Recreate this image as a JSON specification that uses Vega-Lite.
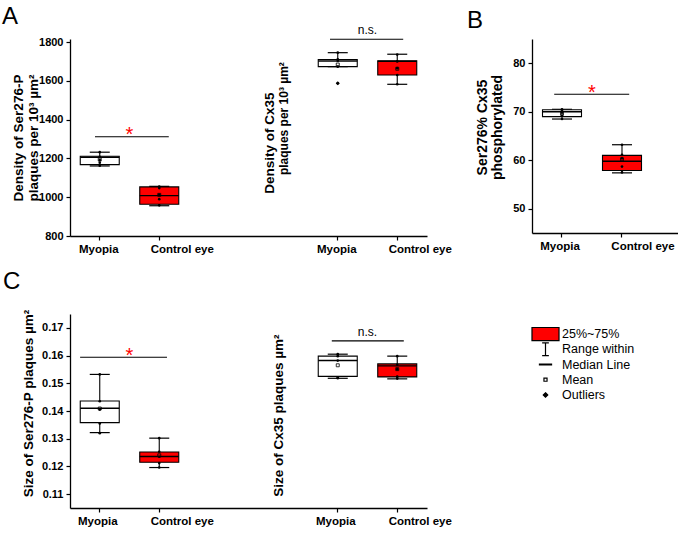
{
"$schema": "https://vega.github.io/schema/vega-lite/v6.json",
"autosize": {"type": "none"},
"padding": {"left": 70, "top": 39, "right": 608, "bottom": 494},
"background": "white",
"config": {
  "font": "Liberation Sans",
  "view": {"stroke": null},
  "axis": {"domainColor": "black", "domainWidth": 1.3, "tickColor": "black", "tickWidth": 1.2, "labelColor": "black", "labelFont": "Liberation Sans", "labelFontWeight": "bold", "labelFontSize": 11, "titleColor": "black", "titleFont": "Liberation Sans", "titleFontWeight": "bold", "titleFontSize": 13.5, "grid": false, "labelOverlap": false},
  "axisY": {"labelOverlap": false},
  "axisLeft": {"labelOverlap": false},
  "axisX": {"labelFontSize": 11.5, "labelAngle": 0},
  "text": {"font": "Liberation Sans"}
},
"datasets": {
  "boxes": [
    {"panel": "A", "key": "SP|Myopia", "lo": 1161, "q1": 1168, "med": 1206, "q3": 1211, "hi": 1232, "mean": 1194},
    {"panel": "A", "key": "SP|Control eye", "lo": 956, "q1": 964, "med": 1008, "q3": 1053, "hi": 1056, "mean": 1012},
    {"panel": "A", "key": "CX|Myopia", "lo": 1673, "q1": 1673, "med": 1702, "q3": 1710, "hi": 1745, "mean": 1684},
    {"panel": "A", "key": "CX|Control eye", "lo": 1582, "q1": 1630, "med": 1700, "q3": 1703, "hi": 1737, "mean": 1662},
    {"panel": "B", "key": "Myopia", "lo": 68.5, "q1": 69.0, "med": 70.0, "q3": 70.4, "hi": 70.5, "mean": 69.6},
    {"panel": "B", "key": "Control eye", "lo": 57.4, "q1": 57.9, "med": 59.8, "q3": 61.0, "hi": 63.2, "mean": 60.2},
    {"panel": "C", "key": "SP|Myopia", "lo": 0.1322, "q1": 0.1358, "med": 0.1410, "q3": 0.1436, "hi": 0.1532, "mean": 0.1409},
    {"panel": "C", "key": "SP|Control eye", "lo": 0.1196, "q1": 0.1215, "med": 0.1236, "q3": 0.1252, "hi": 0.1302, "mean": 0.1240},
    {"panel": "C", "key": "CX|Myopia", "lo": 0.1518, "q1": 0.1525, "med": 0.1582, "q3": 0.1598, "hi": 0.1605, "mean": 0.1565},
    {"panel": "C", "key": "CX|Control eye", "lo": 0.1516, "q1": 0.1523, "med": 0.1563, "q3": 0.1570, "hi": 0.1598, "mean": 0.1551}
  ],
  "points": [
    {"panel": "A", "key": "SP|Myopia", "v": 1232}, {"panel": "A", "key": "SP|Myopia", "v": 1208}, {"panel": "A", "key": "SP|Myopia", "v": 1192}, {"panel": "A", "key": "SP|Myopia", "v": 1178}, {"panel": "A", "key": "SP|Myopia", "v": 1162},
    {"panel": "A", "key": "SP|Control eye", "v": 1055}, {"panel": "A", "key": "SP|Control eye", "v": 1047}, {"panel": "A", "key": "SP|Control eye", "v": 1012}, {"panel": "A", "key": "SP|Control eye", "v": 990}, {"panel": "A", "key": "SP|Control eye", "v": 958},
    {"panel": "A", "key": "CX|Myopia", "v": 1745}, {"panel": "A", "key": "CX|Myopia", "v": 1711}, {"panel": "A", "key": "CX|Myopia", "v": 1704}, {"panel": "A", "key": "CX|Myopia", "v": 1673}, {"panel": "A", "key": "CX|Myopia", "v": 1587},
    {"panel": "A", "key": "CX|Control eye", "v": 1735}, {"panel": "A", "key": "CX|Control eye", "v": 1700}, {"panel": "A", "key": "CX|Control eye", "v": 1665}, {"panel": "A", "key": "CX|Control eye", "v": 1630}, {"panel": "A", "key": "CX|Control eye", "v": 1582},
    {"panel": "B", "key": "Myopia", "v": 70.5}, {"panel": "B", "key": "Myopia", "v": 70.2}, {"panel": "B", "key": "Myopia", "v": 69.8}, {"panel": "B", "key": "Myopia", "v": 69.2}, {"panel": "B", "key": "Myopia", "v": 68.5},
    {"panel": "B", "key": "Control eye", "v": 63.2}, {"panel": "B", "key": "Control eye", "v": 61.1}, {"panel": "B", "key": "Control eye", "v": 60.4}, {"panel": "B", "key": "Control eye", "v": 58.7}, {"panel": "B", "key": "Control eye", "v": 57.5},
    {"panel": "C", "key": "SP|Myopia", "v": 0.1532}, {"panel": "C", "key": "SP|Myopia", "v": 0.1435}, {"panel": "C", "key": "SP|Myopia", "v": 0.1405}, {"panel": "C", "key": "SP|Myopia", "v": 0.1355}, {"panel": "C", "key": "SP|Myopia", "v": 0.1320},
    {"panel": "C", "key": "SP|Control eye", "v": 0.1302}, {"panel": "C", "key": "SP|Control eye", "v": 0.1253}, {"panel": "C", "key": "SP|Control eye", "v": 0.1235}, {"panel": "C", "key": "SP|Control eye", "v": 0.1212}, {"panel": "C", "key": "SP|Control eye", "v": 0.1196},
    {"panel": "C", "key": "CX|Myopia", "v": 0.1605}, {"panel": "C", "key": "CX|Myopia", "v": 0.1598}, {"panel": "C", "key": "CX|Myopia", "v": 0.1582}, {"panel": "C", "key": "CX|Myopia", "v": 0.1521}, {"panel": "C", "key": "CX|Myopia", "v": 0.1518},
    {"panel": "C", "key": "CX|Control eye", "v": 0.1598}, {"panel": "C", "key": "CX|Control eye", "v": 0.1567}, {"panel": "C", "key": "CX|Control eye", "v": 0.1551}, {"panel": "C", "key": "CX|Control eye", "v": 0.1524}, {"panel": "C", "key": "CX|Control eye", "v": 0.1517}
  ],
  "outliers": [
    {"panel": "A", "key": "CX|Myopia", "v": 1587}
  ],
  "sig": [
    {"panel": "A", "from": "SP|Myopia", "to": "SP|Control eye", "y": 1312, "label": "*"},
    {"panel": "A", "from": "CX|Myopia", "to": "CX|Control eye", "y": 1814, "label": "n.s."},
    {"panel": "B", "from": "Myopia", "to": "Control eye", "y": 73.6, "label": "*"},
    {"panel": "C", "from": "SP|Myopia", "to": "SP|Control eye", "y": 0.1594, "label": "*"},
    {"panel": "C", "from": "CX|Myopia", "to": "CX|Control eye", "y": 0.1653, "label": "n.s."}
  ],
  "annot": [
    {"panel": "A", "line": 1, "key": "g2", "y": 1279, "text": "Density of Cx35"},
    {"panel": "A", "line": 2, "key": "g2", "y": 1405, "text": "plaques per 10³ µm²"},
    {"panel": "C", "line": 1, "key": "g2", "y": 0.1383, "text": "Size of Cx35 plaques µm²"}
  ],
  "legend": [
    {"item": "25%~75%"}, {"item": "Range within"}, {"item": "Median Line"}, {"item": "Mean"}, {"item": "Outliers"}
  ]
},
"columns": 2,
"spacing": {"row": 78, "column": 105},
"bounds": "flush",
"concat": [
  {
    "width": 357, "height": 197,
    "title": {"text": "A", "anchor": "start", "frame": "group", "fontSize": 24, "fontWeight": "normal", "color": "black", "dx": -68, "offset": -24, "baseline": "alphabetic"},
    "encoding": {"x": {"field": "key", "type": "nominal", "scale": {"type": "band", "domain": ["SP|Myopia", "SP|Control eye", "g1", "g2", "CX|Myopia", "CX|Control eye"], "paddingInner": 0, "paddingOuter": 0}, "axis": {"title": null, "values": ["SP|Myopia", "SP|Control eye", "CX|Myopia", "CX|Control eye"], "labelExpr": "split(datum.value, '|')[1]", "tickSize": 4, "labelPadding": 3, "labelOffset": {"condition": {"test": "indexof(datum.value, 'Control') >= 0", "value": 23}, "value": -1}}}},
    "layer": [
      {"data": {"name": "boxes"}, "transform": [{"filter": "datum.panel == 'A'"}],
       "mark": {"type": "rule", "color": "black", "strokeWidth": 1.1},
       "encoding": {"y": {"field": "lo", "type": "quantitative", "scale": {"domain": [800, 1815.5], "nice": false, "zero": false},
         "axis": {"title": ["Density of Ser276-P", "plaques per 10³ µm²"], "values": [800, 1000, 1200, 1400, 1600, 1800], "format": "d", "labelOverlap": false, "tickSize": 4, "labelPadding": 3, "titlePadding": -2, "titleLineHeight": 15}},
         "y2": {"field": "hi"}}},
      {"data": {"name": "boxes"}, "transform": [{"filter": "datum.panel == 'A'"}],
       "mark": {"type": "tick", "color": "black", "size": 20, "thickness": 1.2, "opacity": 1},
       "encoding": {"y": {"field": "hi", "type": "quantitative", "axis": {"title": ["Density of Ser276-P", "plaques per 10³ µm²"], "values": [800, 1000, 1200, 1400, 1600, 1800], "format": "d", "labelOverlap": false, "tickSize": 4, "labelPadding": 3, "titlePadding": -2, "titleLineHeight": 15}}}},
      {"data": {"name": "boxes"}, "transform": [{"filter": "datum.panel == 'A'"}],
       "mark": {"type": "tick", "color": "black", "size": 20, "thickness": 1.2, "opacity": 1},
       "encoding": {"y": {"field": "lo", "type": "quantitative", "axis": {"title": ["Density of Ser276-P", "plaques per 10³ µm²"], "values": [800, 1000, 1200, 1400, 1600, 1800], "format": "d", "labelOverlap": false, "tickSize": 4, "labelPadding": 3, "titlePadding": -2, "titleLineHeight": 15}}}},
      {"data": {"name": "boxes"}, "transform": [{"filter": "datum.panel == 'A'"}],
       "mark": {"type": "bar", "width": 39, "stroke": "black", "strokeWidth": 1.1},
       "encoding": {"y": {"field": "q1", "type": "quantitative", "axis": {"title": ["Density of Ser276-P", "plaques per 10³ µm²"], "values": [800, 1000, 1200, 1400, 1600, 1800], "format": "d", "labelOverlap": false, "tickSize": 4, "labelPadding": 3, "titlePadding": -2, "titleLineHeight": 15}}, "y2": {"field": "q3"},
         "fill": {"condition": {"test": "indexof(datum.key, 'Control') >= 0", "value": "#ff0000"}, "value": "white"}}},
      {"data": {"name": "boxes"}, "transform": [{"filter": "datum.panel == 'A'"}],
       "mark": {"type": "tick", "color": "black", "size": 39, "thickness": 1.4, "opacity": 1},
       "encoding": {"y": {"field": "med", "type": "quantitative", "axis": {"title": ["Density of Ser276-P", "plaques per 10³ µm²"], "values": [800, 1000, 1200, 1400, 1600, 1800], "format": "d", "labelOverlap": false, "tickSize": 4, "labelPadding": 3, "titlePadding": -2, "titleLineHeight": 15}}}},
      {"data": {"name": "boxes"}, "transform": [{"filter": "datum.panel == 'A'"}],
       "mark": {"type": "point", "shape": "square", "size": 9, "filled": false, "stroke": "black", "strokeWidth": 0.8, "opacity": 1},
       "encoding": {"y": {"field": "mean", "type": "quantitative", "axis": {"title": ["Density of Ser276-P", "plaques per 10³ µm²"], "values": [800, 1000, 1200, 1400, 1600, 1800], "format": "d", "labelOverlap": false, "tickSize": 4, "labelPadding": 3, "titlePadding": -2, "titleLineHeight": 15}}}},
      {"data": {"name": "points"}, "transform": [{"filter": "datum.panel == 'A'"}],
       "mark": {"type": "circle", "size": 7, "color": "black", "opacity": 1},
       "encoding": {"y": {"field": "v", "type": "quantitative", "axis": {"title": ["Density of Ser276-P", "plaques per 10³ µm²"], "values": [800, 1000, 1200, 1400, 1600, 1800], "format": "d", "labelOverlap": false, "tickSize": 4, "labelPadding": 3, "titlePadding": -2, "titleLineHeight": 15}}}},
      {"data": {"name": "outliers"}, "transform": [{"filter": "datum.panel == 'A'"}],
       "mark": {"type": "point", "shape": "diamond", "filled": true, "size": 16, "color": "black", "opacity": 1},
       "encoding": {"y": {"field": "v", "type": "quantitative", "axis": {"title": ["Density of Ser276-P", "plaques per 10³ µm²"], "values": [800, 1000, 1200, 1400, 1600, 1800], "format": "d", "labelOverlap": false, "tickSize": 4, "labelPadding": 3, "titlePadding": -2, "titleLineHeight": 15}}}},
      {"data": {"name": "sig"}, "transform": [{"filter": "datum.panel == 'A' && datum.label == '*'"}],
       "mark": {"type": "rule", "color": "black", "strokeWidth": 1.1},
       "encoding": {"x": {"field": "from", "type": "nominal", "bandPosition": 0.42}, "x2": {"field": "to", "bandPosition": 0.66}, "y": {"field": "y", "type": "quantitative", "axis": {"title": ["Density of Ser276-P", "plaques per 10³ µm²"], "values": [800, 1000, 1200, 1400, 1600, 1800], "format": "d", "labelOverlap": false, "tickSize": 4, "labelPadding": 3, "titlePadding": -2, "titleLineHeight": 15}}}},
      {"data": {"name": "sig"}, "transform": [{"filter": "datum.panel == 'A' && datum.label == 'n.s.'"}],
       "mark": {"type": "rule", "color": "black", "strokeWidth": 1.1},
       "encoding": {"x": {"field": "from", "type": "nominal", "bandPosition": 0.37}, "x2": {"field": "to", "bandPosition": 0.6}, "y": {"field": "y", "type": "quantitative", "axis": {"title": ["Density of Ser276-P", "plaques per 10³ µm²"], "values": [800, 1000, 1200, 1400, 1600, 1800], "format": "d", "labelOverlap": false, "tickSize": 4, "labelPadding": 3, "titlePadding": -2, "titleLineHeight": 15}}}},
      {"data": {"name": "sig"}, "transform": [{"filter": "datum.panel == 'A' && datum.label == '*'"}],
       "mark": {"type": "text", "color": "#ff0000", "fontSize": 20, "baseline": "alphabetic", "dy": 4.5},
       "encoding": {"x": {"field": "from", "type": "nominal", "bandPosition": 1}, "y": {"field": "y", "type": "quantitative", "axis": {"title": ["Density of Ser276-P", "plaques per 10³ µm²"], "values": [800, 1000, 1200, 1400, 1600, 1800], "format": "d", "labelOverlap": false, "tickSize": 4, "labelPadding": 3, "titlePadding": -2, "titleLineHeight": 15}}, "text": {"field": "label"}}},
      {"data": {"name": "sig"}, "transform": [{"filter": "datum.panel == 'A' && datum.label == 'n.s.'"}],
       "mark": {"type": "text", "color": "black", "fontSize": 12, "baseline": "alphabetic", "dy": -5},
       "encoding": {"x": {"field": "from", "type": "nominal", "bandPosition": 1}, "y": {"field": "y", "type": "quantitative", "axis": {"title": ["Density of Ser276-P", "plaques per 10³ µm²"], "values": [800, 1000, 1200, 1400, 1600, 1800], "format": "d", "labelOverlap": false, "tickSize": 4, "labelPadding": 3, "titlePadding": -2, "titleLineHeight": 15}}, "text": {"field": "label"}}},
      {"data": {"name": "annot"}, "transform": [{"filter": "datum.panel == 'A' && datum.line == 1"}],
       "mark": {"type": "text", "angle": 270, "fontSize": 13.5, "fontWeight": "bold", "color": "black", "align": "center", "baseline": "middle", "dy": -8.75},
       "encoding": {"y": {"field": "y", "type": "quantitative", "axis": {"title": ["Density of Ser276-P", "plaques per 10³ µm²"], "values": [800, 1000, 1200, 1400, 1600, 1800], "format": "d", "labelOverlap": false, "tickSize": 4, "labelPadding": 3, "titlePadding": -2, "titleLineHeight": 15}}, "text": {"field": "text"}}},
      {"data": {"name": "annot"}, "transform": [{"filter": "datum.panel == 'A' && datum.line == 2"}],
       "mark": {"type": "text", "angle": 270, "fontSize": 12, "fontWeight": "bold", "color": "black", "align": "center", "baseline": "middle", "dy": 5.75},
       "encoding": {"y": {"field": "y", "type": "quantitative", "axis": {"title": ["Density of Ser276-P", "plaques per 10³ µm²"], "values": [800, 1000, 1200, 1400, 1600, 1800], "format": "d", "labelOverlap": false, "tickSize": 4, "labelPadding": 3, "titlePadding": -2, "titleLineHeight": 15}}, "text": {"field": "text"}}}
    ]
  },
  {
    "width": 146, "height": 194,
    "title": {"text": "B", "anchor": "start", "frame": "group", "fontSize": 24, "fontWeight": "normal", "color": "black", "dx": -65, "offset": -13, "baseline": "alphabetic"},
    "encoding": {"x": {"field": "key", "type": "nominal", "scale": {"type": "band", "domain": ["Myopia", "Control eye"], "paddingInner": 0, "paddingOuter": 0.2167, "align": 0}, "axis": {"title": null, "tickSize": 4, "labelPadding": 3, "labelOffset": {"condition": {"test": "indexof(datum.value, 'Control') >= 0", "value": 21}, "value": -2}}}},
    "layer": [
      {"data": {"name": "boxes"}, "transform": [{"filter": "datum.panel == 'B'"}],
       "mark": {"type": "rule", "color": "black", "strokeWidth": 1.1},
       "encoding": {"y": {"field": "lo", "type": "quantitative", "scale": {"domain": [45, 85], "nice": false, "zero": false},
         "axis": {"title": ["Ser276% Cx35", "phosphorylated"], "values": [50, 60, 70, 80], "labelOverlap": false, "tickSize": 4, "labelPadding": 3, "titlePadding": 8, "titleFontSize": 14, "titleLineHeight": 15, "titleY": 88}},
         "y2": {"field": "hi"}}},
      {"data": {"name": "boxes"}, "transform": [{"filter": "datum.panel == 'B'"}],
       "mark": {"type": "tick", "color": "black", "size": 20, "thickness": 1.2, "opacity": 1},
       "encoding": {"y": {"field": "hi", "type": "quantitative"}}},
      {"data": {"name": "boxes"}, "transform": [{"filter": "datum.panel == 'B'"}],
       "mark": {"type": "tick", "color": "black", "size": 20, "thickness": 1.2, "opacity": 1},
       "encoding": {"y": {"field": "lo", "type": "quantitative"}}},
      {"data": {"name": "boxes"}, "transform": [{"filter": "datum.panel == 'B'"}],
       "mark": {"type": "bar", "width": 39, "stroke": "black", "strokeWidth": 1.1},
       "encoding": {"y": {"field": "q1", "type": "quantitative"}, "y2": {"field": "q3"},
         "fill": {"condition": {"test": "indexof(datum.key, 'Control') >= 0", "value": "#ff0000"}, "value": "white"}}},
      {"data": {"name": "boxes"}, "transform": [{"filter": "datum.panel == 'B'"}],
       "mark": {"type": "tick", "color": "black", "size": 39, "thickness": 1.4, "opacity": 1},
       "encoding": {"y": {"field": "med", "type": "quantitative"}}},
      {"data": {"name": "boxes"}, "transform": [{"filter": "datum.panel == 'B'"}],
       "mark": {"type": "point", "shape": "square", "size": 9, "filled": false, "stroke": "black", "strokeWidth": 0.8, "opacity": 1},
       "encoding": {"y": {"field": "mean", "type": "quantitative"}}},
      {"data": {"name": "points"}, "transform": [{"filter": "datum.panel == 'B'"}],
       "mark": {"type": "circle", "size": 7, "color": "black", "opacity": 1},
       "encoding": {"y": {"field": "v", "type": "quantitative"}}},
      {"data": {"name": "sig"}, "transform": [{"filter": "datum.panel == 'B'"}],
       "mark": {"type": "rule", "color": "black", "strokeWidth": 1.1},
       "encoding": {"x": {"field": "from", "type": "nominal", "bandPosition": 0.37}, "x2": {"field": "to", "bandPosition": 0.62}, "y": {"field": "y", "type": "quantitative"}}},
      {"data": {"name": "sig"}, "transform": [{"filter": "datum.panel == 'B'"}],
       "mark": {"type": "text", "color": "#ff0000", "fontSize": 20, "baseline": "alphabetic", "dy": 4.5},
       "encoding": {"x": {"field": "from", "type": "nominal", "bandPosition": 1}, "y": {"field": "y", "type": "quantitative"}, "text": {"field": "label"}}}
    ]
  },
  {
    "width": 357, "height": 194,
    "title": {"text": "C", "anchor": "start", "frame": "group", "fontSize": 24, "fontWeight": "normal", "color": "black", "dx": -67, "offset": -4, "baseline": "alphabetic"},
    "encoding": {"x": {"field": "key", "type": "nominal", "scale": {"type": "band", "domain": ["SP|Myopia", "SP|Control eye", "g1", "g2", "CX|Myopia", "CX|Control eye"], "paddingInner": 0, "paddingOuter": 0}, "axis": {"title": null, "values": ["SP|Myopia", "SP|Control eye", "CX|Myopia", "CX|Control eye"], "labelExpr": "split(datum.value, '|')[1]", "tickSize": 4, "labelPadding": 3, "labelOffset": {"condition": {"test": "indexof(datum.value, 'Control') >= 0", "value": 23}, "value": -2}}}},
    "layer": [
      {"data": {"name": "boxes"}, "transform": [{"filter": "datum.panel == 'C'"}],
       "mark": {"type": "rule", "color": "black", "strokeWidth": 1.1},
       "encoding": {"y": {"field": "lo", "type": "quantitative", "scale": {"domain": [0.105, 0.175], "nice": false, "zero": false},
         "axis": {"title": "Size of Ser276-P plaques µm²", "values": [0.11, 0.12, 0.13, 0.14, 0.15, 0.16, 0.17], "format": ".2f", "labelOverlap": false, "tickSize": 4, "labelPadding": 3, "titlePadding": 6, "titleY": 89}},
         "y2": {"field": "hi"}}},
      {"data": {"name": "boxes"}, "transform": [{"filter": "datum.panel == 'C'"}],
       "mark": {"type": "tick", "color": "black", "size": 20, "thickness": 1.2, "opacity": 1},
       "encoding": {"y": {"field": "hi", "type": "quantitative", "axis": {"title": "Size of Ser276-P plaques µm²", "values": [0.11, 0.12, 0.13, 0.14, 0.15, 0.16, 0.17], "format": ".2f", "labelOverlap": false, "tickSize": 4, "labelPadding": 3, "titlePadding": 6, "titleY": 89}}}},
      {"data": {"name": "boxes"}, "transform": [{"filter": "datum.panel == 'C'"}],
       "mark": {"type": "tick", "color": "black", "size": 20, "thickness": 1.2, "opacity": 1},
       "encoding": {"y": {"field": "lo", "type": "quantitative", "axis": {"title": "Size of Ser276-P plaques µm²", "values": [0.11, 0.12, 0.13, 0.14, 0.15, 0.16, 0.17], "format": ".2f", "labelOverlap": false, "tickSize": 4, "labelPadding": 3, "titlePadding": 6, "titleY": 89}}}},
      {"data": {"name": "boxes"}, "transform": [{"filter": "datum.panel == 'C'"}],
       "mark": {"type": "bar", "width": 39, "stroke": "black", "strokeWidth": 1.1},
       "encoding": {"y": {"field": "q1", "type": "quantitative", "axis": {"title": "Size of Ser276-P plaques µm²", "values": [0.11, 0.12, 0.13, 0.14, 0.15, 0.16, 0.17], "format": ".2f", "labelOverlap": false, "tickSize": 4, "labelPadding": 3, "titlePadding": 6, "titleY": 89}}, "y2": {"field": "q3"},
         "fill": {"condition": {"test": "indexof(datum.key, 'Control') >= 0", "value": "#ff0000"}, "value": "white"}}},
      {"data": {"name": "boxes"}, "transform": [{"filter": "datum.panel == 'C'"}],
       "mark": {"type": "tick", "color": "black", "size": 39, "thickness": 1.4, "opacity": 1},
       "encoding": {"y": {"field": "med", "type": "quantitative", "axis": {"title": "Size of Ser276-P plaques µm²", "values": [0.11, 0.12, 0.13, 0.14, 0.15, 0.16, 0.17], "format": ".2f", "labelOverlap": false, "tickSize": 4, "labelPadding": 3, "titlePadding": 6, "titleY": 89}}}},
      {"data": {"name": "boxes"}, "transform": [{"filter": "datum.panel == 'C'"}],
       "mark": {"type": "point", "shape": "square", "size": 9, "filled": false, "stroke": "black", "strokeWidth": 0.8, "opacity": 1},
       "encoding": {"y": {"field": "mean", "type": "quantitative", "axis": {"title": "Size of Ser276-P plaques µm²", "values": [0.11, 0.12, 0.13, 0.14, 0.15, 0.16, 0.17], "format": ".2f", "labelOverlap": false, "tickSize": 4, "labelPadding": 3, "titlePadding": 6, "titleY": 89}}}},
      {"data": {"name": "points"}, "transform": [{"filter": "datum.panel == 'C'"}],
       "mark": {"type": "circle", "size": 7, "color": "black", "opacity": 1},
       "encoding": {"y": {"field": "v", "type": "quantitative", "axis": {"title": "Size of Ser276-P plaques µm²", "values": [0.11, 0.12, 0.13, 0.14, 0.15, 0.16, 0.17], "format": ".2f", "labelOverlap": false, "tickSize": 4, "labelPadding": 3, "titlePadding": 6, "titleY": 89}}}},
      {"data": {"name": "sig"}, "transform": [{"filter": "datum.panel == 'C' && datum.label == '*'"}],
       "mark": {"type": "rule", "color": "black", "strokeWidth": 1.1},
       "encoding": {"x": {"field": "from", "type": "nominal", "bandPosition": 0.17}, "x2": {"field": "to", "bandPosition": 0.63}, "y": {"field": "y", "type": "quantitative", "axis": {"title": "Size of Ser276-P plaques µm²", "values": [0.11, 0.12, 0.13, 0.14, 0.15, 0.16, 0.17], "format": ".2f", "labelOverlap": false, "tickSize": 4, "labelPadding": 3, "titlePadding": 6, "titleY": 89}}}},
      {"data": {"name": "sig"}, "transform": [{"filter": "datum.panel == 'C' && datum.label == 'n.s.'"}],
       "mark": {"type": "rule", "color": "black", "strokeWidth": 1.1},
       "encoding": {"x": {"field": "from", "type": "nominal", "bandPosition": 0.4}, "x2": {"field": "to", "bandPosition": 0.61}, "y": {"field": "y", "type": "quantitative", "axis": {"title": "Size of Ser276-P plaques µm²", "values": [0.11, 0.12, 0.13, 0.14, 0.15, 0.16, 0.17], "format": ".2f", "labelOverlap": false, "tickSize": 4, "labelPadding": 3, "titlePadding": 6, "titleY": 89}}}},
      {"data": {"name": "sig"}, "transform": [{"filter": "datum.panel == 'C' && datum.label == '*'"}],
       "mark": {"type": "text", "color": "#ff0000", "fontSize": 20, "baseline": "alphabetic", "dy": 4.5},
       "encoding": {"x": {"field": "from", "type": "nominal", "bandPosition": 1}, "y": {"field": "y", "type": "quantitative", "axis": {"title": "Size of Ser276-P plaques µm²", "values": [0.11, 0.12, 0.13, 0.14, 0.15, 0.16, 0.17], "format": ".2f", "labelOverlap": false, "tickSize": 4, "labelPadding": 3, "titlePadding": 6, "titleY": 89}}, "text": {"field": "label"}}},
      {"data": {"name": "sig"}, "transform": [{"filter": "datum.panel == 'C' && datum.label == 'n.s.'"}],
       "mark": {"type": "text", "color": "black", "fontSize": 12, "baseline": "alphabetic", "dy": -5},
       "encoding": {"x": {"field": "from", "type": "nominal", "bandPosition": 1}, "y": {"field": "y", "type": "quantitative", "axis": {"title": "Size of Ser276-P plaques µm²", "values": [0.11, 0.12, 0.13, 0.14, 0.15, 0.16, 0.17], "format": ".2f", "labelOverlap": false, "tickSize": 4, "labelPadding": 3, "titlePadding": 6, "titleY": 89}}, "text": {"field": "label"}}},
      {"data": {"name": "annot"}, "transform": [{"filter": "datum.panel == 'C'"}],
       "mark": {"type": "text", "angle": 270, "fontSize": 13.5, "fontWeight": "bold", "color": "black", "align": "center", "baseline": "middle", "dy": 0.75},
       "encoding": {"y": {"field": "y", "type": "quantitative", "axis": {"title": "Size of Ser276-P plaques µm²", "values": [0.11, 0.12, 0.13, 0.14, 0.15, 0.16, 0.17], "format": ".2f", "labelOverlap": false, "tickSize": 4, "labelPadding": 3, "titlePadding": 6, "titleY": 89}}, "text": {"field": "text"}}}
    ]
  },
  {
    "width": 27, "height": 101,
    "data": {"name": "legend"},
    "encoding": {"y": {"field": "item", "type": "nominal", "scale": {"type": "band", "domain": ["25%~75%", "Range within", "Median Line", "Mean", "Outliers"], "paddingInner": 0, "paddingOuter": 0.815}, "axis": null}},
    "layer": [
      {"mark": {"type": "point", "size": 196, "stroke": "black", "filled": true, "opacity": 1},
       "encoding": {
         "shape": {"field": "item", "type": "nominal", "scale": {"domain": ["25%~75%", "Range within", "Median Line", "Mean", "Outliers"], "range": ["M-1.93,-0.93H1.93V0.93H-1.93Z", "M-0.48,-0.9H0.48M0,-0.9V0.9M-0.48,0.9H0.48", "M-0.95,0H0.95", "M-0.22,-0.22H0.22V0.22H-0.22Z", "M0,-0.32L0.32,0L0,0.32L-0.32,0Z"]}, "legend": null},
         "fill": {"condition": [{"test": "datum.item == '25%~75%'", "value": "#ff0000"}, {"test": "datum.item == 'Outliers'", "value": "black"}, {"test": "datum.item == 'Mean'", "value": "white"}], "value": "transparent"},
         "strokeWidth": {"condition": {"test": "datum.item == 'Median Line'", "value": 2}, "value": 1.2}
       }},
      {"mark": {"type": "text", "align": "left", "baseline": "middle", "dx": 16.5, "fontSize": 12.5, "color": "black"},
       "encoding": {"text": {"field": "item"}}}
    ]
  }
]
}
